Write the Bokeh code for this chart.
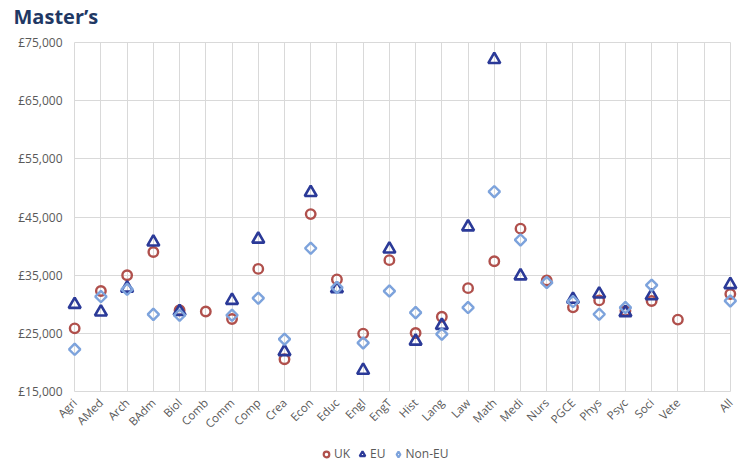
import numpy as np
from bokeh.plotting import figure
from bokeh.layouts import column
from bokeh.models import Range1d, FixedTicker, Legend, ColumnDataSource
from bokeh.embed import file_html
from bokeh.resources import INLINE

categories = ["Agri", "AMed", "Arch", "BAdm", "Biol", "Comb", "Comm", "Comp", "Crea", "Econ",
              "Educ", "Engl", "EngT", "Hist", "Lang", "Law", "Math", "Medi", "Nurs", "PGCE",
              "Phys", "Psyc", "Soci", "Vete", "", "All"]
uk = [25900, 32300, 35000, 39000, 29000, 28800, 27500, 36100, 20600, 45500,
      34300, 25000, 37600, 25100, 27900, 32800, 37400, 43000, 34100, 29500,
      30700, 28900, 30600, 27400, None, 31800]
eu = [30000, 28700, 32800, 40700, 28800, None, 30700, 41200, 21900, 49200,
      32700, 18700, 39500, 23700, 26400, 43300, 72000, 34900, None, 30900,
      31800, 28600, 31500, None, None, 33400]
non_eu = [22300, 31350, 32600, 28300, 28150, None, 28150, 31070, 24040, 39640,
          32900, 23400, 32300, 28600, 24900, 29460, 49350, 41070, 33750, 30490,
          28320, 29460, 33300, None, None, 30600]
y_ticks = [15000, 25000, 35000, 45000, 55000, 65000, 75000]
y_tick_labels = ["£15,000", "£25,000", "£35,000", "£45,000", "£55,000", "£65,000", "£75,000"]
series_names = ["UK", "EU", "Non-EU"]
title_text = "Master\u2019s"

FONT = "Open Sans"
GRID = "#d9d9d9"
TXT = "#595959"
COLORS = ["#b0504c", "#2b3a98", "#7da3dc"]
STYLES = [
    dict(marker="circle", size=9.5, fill_color=None, line_color=COLORS[0], line_width=2.4),
    dict(marker="triangle", size=12, fill_color=None, line_color=COLORS[1], line_width=2.6),
    dict(marker="square", angle=np.pi / 4, size=8, fill_color=None, line_color=COLORS[2], line_width=2.4),
]
LEGEND_MARKERS = ["circle", "triangle", "diamond"]

xs = list(range(len(categories)))
n = len(categories)
W = 745

def arr(v):
    return np.array([np.nan if a is None else a for a in v], dtype=float)

src = ColumnDataSource(dict(x=xs, uk=arr(uk), eu=arr(eu), non_eu=arr(non_eu)))
cols = ["uk", "eu", "non_eu"]

def strip(h):
    f = figure(width=W, height=h, output_backend="svg", toolbar_location=None,
               x_range=Range1d(0, 1), y_range=Range1d(0, 1),
               x_axis_type=None, y_axis_type=None,
               min_border_left=65, min_border_right=6, min_border_top=0, min_border_bottom=0)
    f.outline_line_color = None
    f.xgrid.visible = False
    f.ygrid.visible = False
    return f

# title strip
tp = strip(30)
tp.title.text = title_text
tp.title.text_font = FONT
tp.title.text_font_size = "20px"
tp.title.text_font_style = "bold"
tp.title.text_color = "#1f3864"
tp.title.align = "left"
tp.title.offset = -52
tp.title.standoff = 0

p = figure(width=W, height=413, output_backend="svg", toolbar_location=None,
           x_range=Range1d(-0.35, n - 1 + 0.35), y_range=Range1d(14900, 75100),
           min_border_left=65, min_border_right=6, min_border_top=11, min_border_bottom=51)
p.outline_line_color = None
p.background_fill_color = "white"
p.border_fill_color = "white"

# axes
p.yaxis.ticker = FixedTicker(ticks=y_ticks)
p.yaxis.major_label_overrides = {t: l for t, l in zip(y_ticks, y_tick_labels)}
p.xaxis.ticker = FixedTicker(ticks=xs)
p.xaxis.major_label_overrides = {i: c for i, c in zip(xs, categories)}
p.xaxis.major_label_orientation = np.pi / 4
for ax in (p.xaxis, p.yaxis):
    ax.axis_line_color = None
    ax.major_tick_line_color = None
    ax.minor_tick_line_color = None
    ax.major_tick_out = 0
    ax.major_tick_in = 0
    ax.minor_tick_out = 0
    ax.major_label_text_font = FONT
    ax.major_label_text_color = TXT
p.yaxis.major_label_text_font_size = "12px"
p.xaxis.major_label_text_font_size = "11.5px"
p.yaxis.major_label_standoff = 3
p.xaxis.major_label_standoff = 8

p.xgrid.ticker = FixedTicker(ticks=xs)
p.ygrid.ticker = FixedTicker(ticks=y_ticks)
p.xgrid.grid_line_color = GRID
p.ygrid.grid_line_color = GRID
p.ygrid.cross_bounds = (0, n - 1)
p.xgrid.cross_bounds = (15000, 75000)

for c, st in zip(cols, STYLES):
    p.scatter("x", c, source=src, **st)

# legend strip below the chart (its renderers fall outside its own tiny range)
lg = strip(24)
items = []
for name, c, st, mk in zip(series_names, cols, STYLES, LEGEND_MARKERS):
    r = lg.scatter("x", c, source=src, marker=mk, fill_color=None,
                   line_color=st["line_color"], line_width=2.2)
    items.append((name, [r]))
legend = Legend(items=items, orientation="horizontal", location=(254, 5),
                border_line_color=None, background_fill_alpha=0,
                label_text_font=FONT, label_text_font_size="12px", label_text_color=TXT,
                glyph_width=14, glyph_height=16, spacing=5, label_standoff=1,
                label_width=0, padding=0, margin=0)
lg.add_layout(legend, "center")

layout = column(tp, p, lg, spacing=0)
open("out.html", "w").write(file_html(layout, INLINE))
